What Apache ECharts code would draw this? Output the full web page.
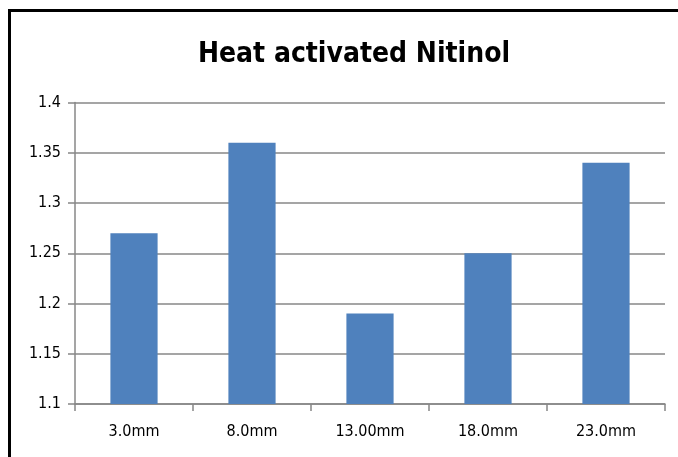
<!DOCTYPE html>
<html><head><meta charset="utf-8">
<script src="https://cdn.jsdelivr.net/npm/echarts@6/dist/echarts.min.js"></script>
<style>html,body{margin:0;padding:0;background:#fff}#c{width:678px;height:457px;position:relative}
#frame{position:absolute;left:8px;top:9px;width:700px;height:446px;border-left:3px solid #000;border-top:3px solid #000;border-bottom:1px solid #ddd;pointer-events:none}</style>
</head><body><div id="c"></div>
<script>
const categories = ['3.0mm', '8.0mm', '13.00mm', '18.0mm', '23.0mm'];
const values = [1.27, 1.36, 1.19, 1.25, 1.34];
const titleText = 'Heat activated Nitinol';
const yMin = 1.1, yMax = 1.4, yStep = 0.05;

const chart = echarts.init(document.getElementById('c'));
const font = '"DejaVu Sans Condensed", "Liberation Sans", sans-serif';
chart.setOption({
  animation: false,
  title: {
    text: titleText, left: 349, top: 36, textAlign: 'center',
    textStyle: {fontFamily: font, fontWeight: 'bold', fontSize: 28, color: '#000'}
  },
  grid: {left: 75, right: 13, top: 102.5, bottom: 53},
  xAxis: {
    type: 'category', data: categories,
    axisLine: {lineStyle: {color: '#878787', width: 1.5}},
    axisTick: {show: true, length: 7, lineStyle: {color: '#878787', width: 1.5}},
    axisLabel: {fontFamily: font, fontSize: 16, color: '#000', margin: 20}
  },
  yAxis: {
    type: 'value', min: yMin, max: yMax, interval: yStep,
    axisLine: {show: true, lineStyle: {color: '#878787', width: 1.5}},
    axisTick: {show: true, length: 7, lineStyle: {color: '#878787', width: 1.5}},
    splitLine: {lineStyle: {color: '#878787', width: 1.5}},
    axisLabel: {fontFamily: font, fontSize: 16, color: '#000', margin: 14,
      formatter: v => String(Math.round(v * 100) / 100)}
  },
  series: [{
    type: 'bar', data: values, barWidth: '40%',
    itemStyle: {color: '#4F81BD'}
  }]
});
</script>
<div id="frame" style="position:absolute"></div>
</body></html>
